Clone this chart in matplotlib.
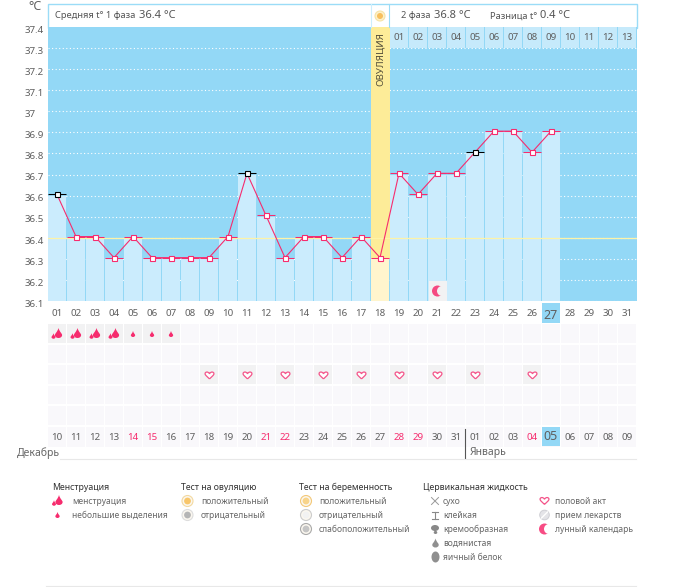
import matplotlib
matplotlib.use("Agg")
import matplotlib.pyplot as plt
import matplotlib.transforms as mtransforms
from matplotlib.patches import Rectangle, Circle, PathPatch, Ellipse
from matplotlib.path import Path

plt.rcParams["font.family"] = ["Noto Sans", "DejaVu Sans"]

W, H = 675, 587
LEFT, COL = 47.5, 19
TOP_Y, BOTTOM_Y = 27, 301

BLUE = "#93d8f6"
LIGHT = "#cbecfd"
PINK = "#f62c6e"
GREY = "#5f5f5f"

days = list(range(1, 32))
day_labels = [f"{d:02d}" for d in days]
temps = [36.6, 36.4, 36.4, 36.3, 36.4, 36.3, 36.3, 36.3, 36.3, 36.4, 36.7, 36.5, 36.3, 36.4,
         36.4, 36.3, 36.4, 36.3, 36.7, 36.6, 36.7, 36.7, 36.8, 36.9, 36.9, 36.8, 36.9]
black_days = [1, 11, 23]
ovulation_day = 18
today = 27
cover_temp = 36.4
y_ticks = [36.1, 36.2, 36.3, 36.4, 36.5, 36.6, 36.7, 36.8, 36.9, 37.0, 37.1, 37.2, 37.3, 37.4]
y_labels = ["36.1", "36.2", "36.3", "36.4", "36.5", "36.6", "36.7", "36.8", "36.9", "37", "37.1", "37.2", "37.3", "37.4"]
phase2_days = list(range(19, 32))
phase2_labels = ["01", "02", "03", "04", "05", "06", "07", "08", "09", "10", "11", "12", "13"]

date_labels = ["10", "11", "12", "13", "14", "15", "16", "17", "18", "19", "20", "21", "22", "23", "24", "25",
               "26", "27", "28", "29", "30", "31", "01", "02", "03", "04", "05", "06", "07", "08", "09"]
red_dates = [5, 6, 12, 13, 19, 20, 26]
heavy_days = [1, 2, 3, 4]
light_days = [5, 6, 7]
heart_days = [9, 11, 13, 15, 17, 19, 21, 23, 26]
moon_day = 21

row_tops = [324, 344.5, 365, 385.5, 406]
row_h = 19.5


def col_x(d):
    return LEFT + (d - 0.5) * COL


def drop(ax, x, y, h, color):
    w = h * 0.36
    verts = [(x, y - h / 2),
             (x + w * 0.3, y - h * 0.1), (x + w, y + h * 0.05), (x + w, y + h * 0.2),
             (x + w, y + h * 0.4), (x + w * 0.5, y + h / 2), (x, y + h / 2),
             (x - w * 0.5, y + h / 2), (x - w, y + h * 0.4), (x - w, y + h * 0.2),
             (x - w, y + h * 0.05), (x - w * 0.3, y - h * 0.1), (x, y - h / 2)]
    codes = [Path.MOVETO] + [Path.CURVE4] * 12
    ax.add_patch(PathPatch(Path(verts, codes), fc=color, ec="none", zorder=5))


def heavy(ax, x, y):
    drop(ax, x + 1.5, y - 1, 10, PINK)
    drop(ax, x - 3.5, y + 2, 5.5, PINK)


def heart(ax, x, y, s=3.4):
    verts = [(x, y + s),
             (x - s * 0.6, y + s * 0.4), (x - s * 1.3, y - s * 0.1), (x - s * 1.3, y - s * 0.5),
             (x - s * 1.3, y - s * 1.2), (x - s * 0.3, y - s * 1.2), (x, y - s * 0.5),
             (x + s * 0.3, y - s * 1.2), (x + s * 1.3, y - s * 1.2), (x + s * 1.3, y - s * 0.5),
             (x + s * 1.3, y - s * 0.1), (x + s * 0.6, y + s * 0.4), (x, y + s)]
    codes = [Path.MOVETO] + [Path.CURVE4] * 12
    ax.add_patch(PathPatch(Path(verts, codes), fc="white", ec="#f4558a", lw=0.9, zorder=5))


def moon(ax, x, y, bg):
    ax.add_patch(Circle((x, y), 5.5, fc=PINK, ec="none", alpha=0.85, zorder=5))
    ax.add_patch(Circle((x + 4.5, y), 5, fc=bg, ec="none", zorder=6))


def round_icon(ax, x, y, inner, outer):
    ax.add_patch(Circle((x, y), 5.5, fc="#fbf7ef", ec=outer, lw=0.8, zorder=5))
    ax.add_patch(Circle((x, y), 3.4, fc=inner, ec="none", zorder=6))


fig = plt.figure(figsize=(W / 100, H / 100), dpi=100, facecolor="white")

# layer under the chart, pixel coordinates
bg = fig.add_axes([0, 0, 1, 1], zorder=0)
bg.set_xlim(0, W)
bg.set_ylim(H, 0)
bg.axis("off")

bg.add_patch(Rectangle((47.5, 3.5), 589, 24, fc="white", ec="#9bdcf7", lw=1))
bg.add_patch(Rectangle((col_x(today) - 9, 303), 18, 20, fc=BLUE, ec="none"))

for top in row_tops:
    for d in days:
        bg.add_patch(Rectangle((col_x(d) - 9, top), 18, row_h - 1, fc="#f9f8fb", ec="none"))
for d in days:
    bg.add_patch(Rectangle((col_x(d) - 9, 427), 18, 20, fc="#f9f8fb", ec="none"))
for d in heavy_days + light_days:
    bg.add_patch(Rectangle((col_x(d) - 9, row_tops[0]), 18, row_h - 1, fc="#f2f2f3", ec="none"))
for d in heart_days:
    bg.add_patch(Rectangle((col_x(d) - 9, row_tops[2]), 18, row_h - 0.5, fc="#f2f2f3", ec="none"))
bg.add_patch(Rectangle((col_x(today) - 9, 427), 18, 19, fc=BLUE, ec="none", zorder=2))

# the chart itself
ax = fig.add_axes([LEFT / W, (H - BOTTOM_Y) / H, (COL * 31) / W, (BOTTOM_Y - TOP_Y) / H], zorder=1)
ax.set_facecolor(BLUE)
ax.set_xlim(0.5, 31.5)
ax.set_ylim(36.1, 37.4)
for sp in ax.spines.values():
    sp.set_visible(False)

for t in y_ticks[:-1]:
    ax.axhline(t, color="white", lw=0.8, ls=(0, (1, 2.2)), zorder=1)

# marks sit about a pixel above the grid in the original
up = ax.transData + mtransforms.Affine2D().translate(0, 1.2)

d_x = list(range(1, len(temps) + 1))
bar_colors = ["#fff5cd" if d == ovulation_day else LIGHT for d in d_x]
ax.bar(d_x, [t - 36.1 for t in temps], bottom=36.1, width=17.5 / 19, color=bar_colors, zorder=2)
ax.bar(ovulation_day, 37.4 - temps[ovulation_day - 1], bottom=temps[ovulation_day - 1], width=1,
       color="#fdec98", zorder=2)
ax.bar(phase2_days, 0.1, bottom=37.3, width=17.5 / 19, color="#c6eafb", zorder=2)
ax.axhline(cover_temp, color="#fdf3a7", lw=0.9, zorder=3)

ax.plot(d_x, temps, color=PINK, lw=0.8, zorder=5, transform=up)
for d, t in zip(d_x, temps):
    c = "black" if d in black_days else PINK
    ax.hlines(t, d - 0.47, d + 0.47, color=c, lw=0.75, zorder=4, transform=up)
    ax.plot(d, t, marker="s", ms=3.6, mfc="white", mec=c, mew=0.8, zorder=6, transform=up)

for d, s in zip(phase2_days, phase2_labels):
    ax.text(d, 37.35, s, ha="center", va="center", fontsize=7, color=GREY, zorder=6)
ax.text(ovulation_day, 37.375, "ОВУЛЯЦИЯ", rotation=90, ha="center", va="top", fontsize=7, color="#55503a", zorder=6)

ax.set_yticks(y_ticks)
ax.set_yticklabels(y_labels, fontsize=7, color=GREY, ha="left")
ax.tick_params(axis="y", length=0, pad=22.5 * 0.72)
for lbl in ax.get_yticklabels():
    lbl.set_transform(lbl.get_transform() + mtransforms.Affine2D().translate(0, -2.3))
ax.set_xticks(days)
ax.set_xticklabels(day_labels, fontsize=7, color=GREY)
ax.tick_params(axis="x", length=0, pad=5.8)
ax.get_xticklabels()[today - 1].set_fontsize(9)

# layer over the chart
top = fig.add_axes([0, 0, 1, 1], zorder=2)
top.set_xlim(0, W)
top.set_ylim(H, 0)
top.axis("off")
top.patch.set_alpha(0)

top.text(28, 7, "°C", fontsize=9, color=GREY, va="center")
top.text(55, 16, "Средняя t° 1 фаза", fontsize=6.7, color="#555555", va="center")
top.text(139, 15.5, "36.4 °C", fontsize=8, color="#555555", va="center")
top.text(401, 16, "2 фаза", fontsize=6.7, color="#555555", va="center")
top.text(434, 15.5, "36.8 °C", fontsize=8, color="#555555", va="center")
top.text(490, 16, "Разница t°", fontsize=6.7, color="#555555", va="center")
top.text(540, 15.5, "0.4 °C", fontsize=8, color="#555555", va="center")

top.plot([371, 371], [3.5, 27], color="#cdeefd", lw=0.8)
top.plot([389, 389], [3.5, 27], color="#9bdcf7", lw=0.8)
top.add_patch(Circle((380, 16), 5, fc="#fdf0c8", ec="#f6e3a6", lw=0.8))
top.add_patch(Circle((380, 16), 3, fc="#f7bf5c", ec="none"))

for d in heavy_days:
    heavy(top, col_x(d), row_tops[0] + 10)
for d in light_days:
    drop(top, col_x(d), row_tops[0] + 10, 6, PINK)
for d in heart_days:
    heart(top, col_x(d) + 0.5, row_tops[2] + 10.5)

top.add_patch(Rectangle((429, 281), 18, 20, fc="#f2f2f3", ec="none"))
moon(top, col_x(moon_day) + 0.5, 291, "#f2f2f3")

for i, s in enumerate(date_labels):
    d = i + 1
    c = PINK if d in red_dates else GREY
    size = 9 if d == today else 7
    top.text(col_x(d), 437 if d != today else 436, s, ha="center", va="center", fontsize=size, color=c)

top.plot([465, 465], [429, 458], color="#555555", lw=0.8)
top.plot([60, 636], [458.5, 458.5], color="#e8e8e8", lw=0.8)
top.plot([46, 636], [586, 586], color="#e8e8e8", lw=0.8)
top.text(17, 453, "Декабрь", fontsize=7.5, color="#666666", va="center")
top.text(470, 453, "Январь", fontsize=7.5, color="#666666", va="center")

# legend
TITLE_Y = 487
ROW_YS = [501, 515, 529, 543, 557]


def legend_col(x, title, labels):
    top.text(x, TITLE_Y, title, fontsize=6.3, color="#333333", va="center", fontweight="medium")
    for y, s in zip(ROW_YS, labels[1]):
        top.text(labels[0], y, s, fontsize=6.1, color="#666666", va="center")


legend_col(52, "Менструация", (72, ["менструация", "небольшие выделения"]))
legend_col(181, "Тест на овуляцию", (201, ["положительный", "отрицательный"]))
legend_col(299, "Тест на беременность", (319, ["положительный", "отрицательный", "слабоположительный"]))
legend_col(423, "Цервикальная жидкость", (443, ["сухо", "клейкая", "кремообразная", "водянистая", "яичный белок"]))
legend_col(555, "", (555, ["половой акт", "прием лекарств", "лунный календарь"]))

heavy(top, 57.5, ROW_YS[0])
drop(top, 57.5, ROW_YS[1], 6, PINK)
round_icon(top, 187.5, ROW_YS[0], "#f8c66a", "#f3d9a0")
round_icon(top, 187.5, ROW_YS[1], "#b5b5b5", "#dddddd")
round_icon(top, 306, ROW_YS[0], "#f8d48a", "#f3c878")
round_icon(top, 306, ROW_YS[1], "#f2f2f2", "#cccccc")
round_icon(top, 306, ROW_YS[2], "#c5c5c5", "#aaaaaa")

top.plot([431.5, 438.5], [ROW_YS[0] - 3.5, ROW_YS[0] + 3.5], color="#999999", lw=0.7)
top.plot([431.5, 438.5], [ROW_YS[0] + 3.5, ROW_YS[0] - 3.5], color="#999999", lw=0.7)
top.plot([432, 438], [ROW_YS[1] - 3.5, ROW_YS[1] - 3.5], color="#888888", lw=0.8)
top.plot([432, 438], [ROW_YS[1] + 3.5, ROW_YS[1] + 3.5], color="#888888", lw=0.8)
top.plot([435, 435], [ROW_YS[1] - 3.5, ROW_YS[1] + 3.5], color="#888888", lw=0.8)
top.add_patch(Ellipse((435, ROW_YS[2] - 1), 8, 6, fc="#888888", ec="none"))
drop(top, 435.5, ROW_YS[2] + 2.5, 5, "#888888")
drop(top, 435.5, ROW_YS[3], 9, "#8f8f8f")
top.add_patch(Ellipse((435.5, ROW_YS[4]), 8, 11, fc="#8f8f8f", ec="none"))

heart(top, 544.5, ROW_YS[0])
top.add_patch(Circle((544.5, ROW_YS[1]), 4.8, fc="#e4e4e8", ec="#cfcfd4", lw=0.7))
top.plot([541.5, 547.5], [ROW_YS[1] + 3, ROW_YS[1] - 3], color="white", lw=1)
moon(top, 544.5, ROW_YS[2], "white")

fig.savefig("out.png", dpi=100, facecolor="white")
